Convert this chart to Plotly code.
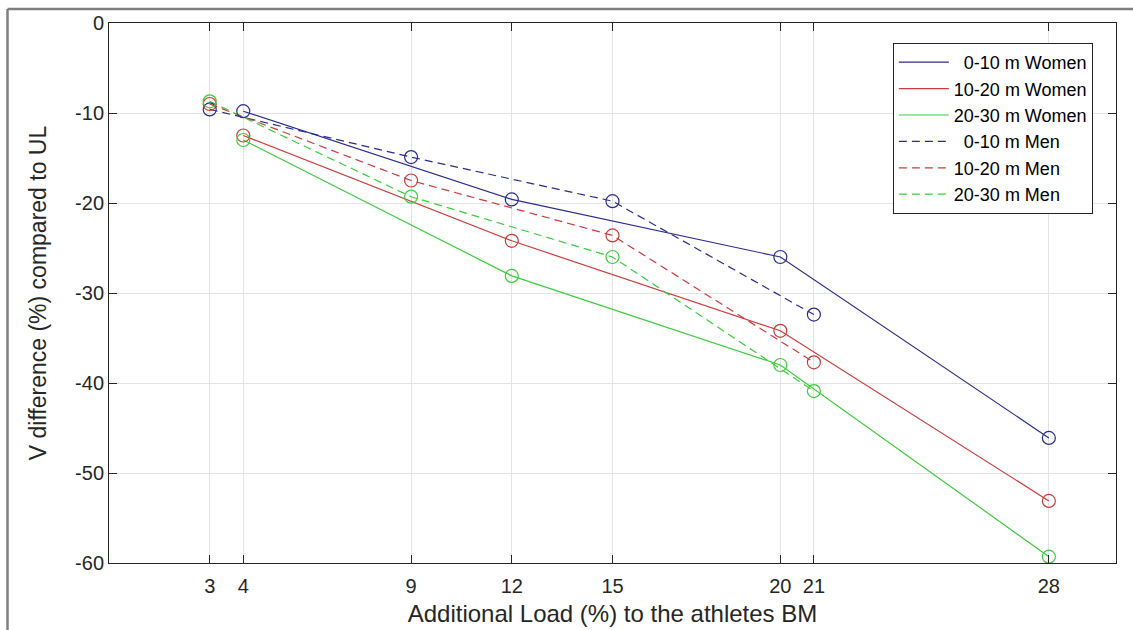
import plotly.graph_objects as go

# ---- data ----
load_women = [4, 12, 20, 28]
load_men = [3, 9, 15, 21]

women_0_10 = [-9.8, -19.6, -26.0, -46.1]
women_10_20 = [-12.5, -24.2, -34.2, -53.1]
women_20_30 = [-13.0, -28.1, -38.0, -59.3]

men_0_10 = [-9.6, -14.9, -19.8, -32.4]
men_10_20 = [-9.0, -17.5, -23.6, -37.7]
men_20_30 = [-8.7, -19.3, -26.0, -40.9]

x_ticks = [3, 4, 9, 12, 15, 20, 21, 28]
y_ticks = [0, -10, -20, -30, -40, -50, -60]

NB = "\u00a0\u00a0"
series = [
    (NB + "0-10 m Women", load_women, women_0_10, "#2b2b8f", "solid"),
    ("10-20 m Women", load_women, women_10_20, "#cc3b3b", "solid"),
    ("20-30 m Women", load_women, women_20_30, "#3ccc3c", "solid"),
    (NB + "0-10 m Men", load_men, men_0_10, "#2b2b8f", "dash"),
    ("10-20 m Men", load_men, men_10_20, "#cc3b3b", "dash"),
    ("20-30 m Men", load_men, men_20_30, "#3ccc3c", "dash"),
]

FONT = "Liberation Sans, Arial, Helvetica, sans-serif"
fig = go.Figure()

for name, xs, ys, col, dash in series:
    fig.add_trace(go.Scatter(
        x=xs, y=ys, mode="lines", name=name,
        line=dict(color=col, width=1.2, dash=("8px,5px" if dash == "dash" else "solid")),
        showlegend=True,
    ))
for name, xs, ys, col, dash in series:
    fig.add_trace(go.Scatter(
        x=xs, y=ys, mode="markers", showlegend=False, hoverinfo="skip",
        marker=dict(symbol="circle-open", size=13, color=col, line=dict(width=1.2, color=col)),
    ))

axis_common = dict(
    showline=True, linecolor="#262626", linewidth=1, mirror="ticks",
    ticks="inside", ticklen=8, tickcolor="#262626", tickwidth=1,
    showgrid=True, gridcolor="#e3e3e3", gridwidth=1, zeroline=False,
    tickfont=dict(family=FONT, size=20, color="#262626"),
)

fig.update_xaxes(
    range=[0, 30], tickvals=x_ticks, ticktext=[str(v) for v in x_ticks],
    ticklabelstandoff=5,
    title=dict(text="Additional Load (%) to the athletes BM",
               font=dict(family=FONT, size=24, color="#262626"), standoff=9),
    **axis_common,
)
fig.update_yaxes(
    range=[-60, 0], tickvals=y_ticks, ticktext=[str(v) for v in y_ticks],
    title=dict(text="V difference (%) compared to UL",
               font=dict(family=FONT, size=23, color="#262626"), standoff=22),
    **axis_common,
)

fig.update_layout(
    width=1133, height=630,
    margin=dict(l=109, r=17, t=23, b=67, autoexpand=False),
    paper_bgcolor="white", plot_bgcolor="white",
    legend=dict(
        x=0.977, y=0.963, xanchor="right", yanchor="top",
        bgcolor="white", bordercolor="#262626", borderwidth=1,
        font=dict(family=FONT, size=18, color="#000000"),
        itemwidth=50, tracegroupgap=0,
    ),
    shapes=[
        dict(type="line", xref="paper", yref="paper", x0=-0.1008, x1=-0.1008,
             y0=1.0259, y1=-0.13, line=dict(color="#7f7f7f", width=2.5)),
        dict(type="line", xref="paper", yref="paper", x0=-0.1008, x1=1.02,
             y0=1.0259, y1=1.0259, line=dict(color="#7f7f7f", width=2.5)),
    ],
)

fig.write_html("out.html", config={"displayModeBar": False},
               post_script="document.body.style.margin='0';")
